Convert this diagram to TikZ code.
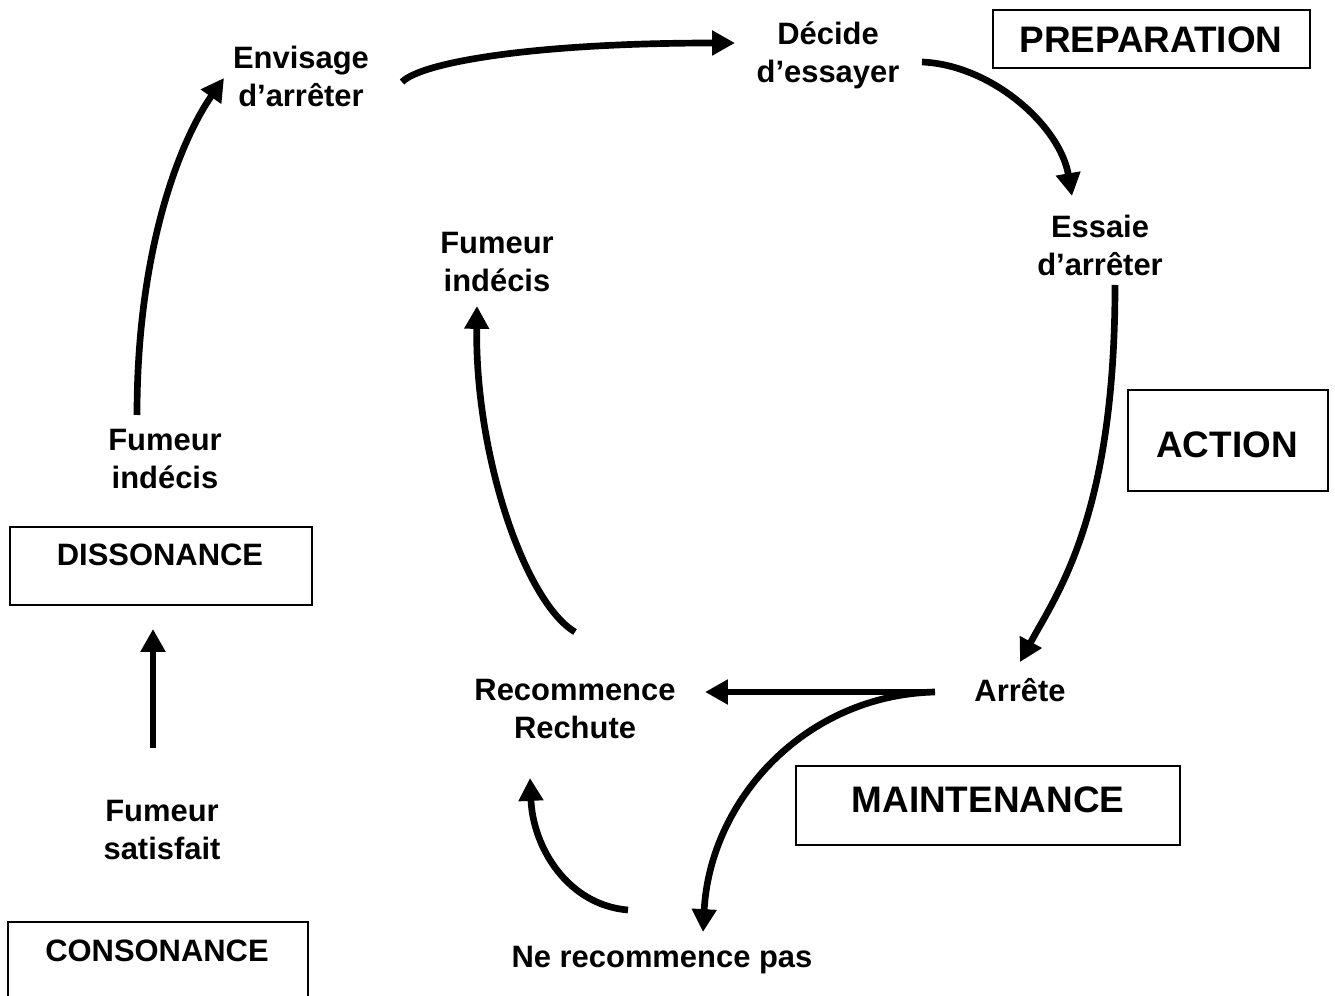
\documentclass[tikz,border=0pt]{standalone}
\usepackage{fontspec}
\setmainfont{Liberation Sans}
\usepackage{tikz}
\usetikzlibrary{arrows.meta, positioning}
\tikzset{
	stage/.style={align=center, inner sep=0pt, font=\fontsize{17.6}{21.6}\selectfont\bfseries},
	phase/.style={inner sep=0pt, font=\fontsize{21}{25}\selectfont\bfseries},
	phaseline/.style={line width=1.1pt},
	flow/.style={line width=3.8pt, -{Triangle[length=13pt, width=13.5pt]}}
}

\begin{document}
\begin{tikzpicture}[x=0.02cm, y=-0.02cm]
				\useasboundingbox (0,0) rectangle (1335,996);
				\node[stage] (envis) at (301,76) {Envisage\\d’arrêter};
				\node[stage] (decide) at (828,55) {Décide\\d’essayer};
				\node[stage] (essaie) at (1100,245) {Essaie\\d’arrêter};
				\node[stage] (indecisA) at (497,262) {Fumeur\\indécis};
				\node[stage] (indecisB) at (165,459) {Fumeur\\indécis};
				\node[stage] (satisf) at (162,830) {Fumeur\\satisfait};
				\node[stage] (rechute) at (575,709) {Recommence\\Rechute};
				\node[stage] (arrete) at (1020,690) {Arrête};
				\node[stage] (nepas) at (662,960) {Ne recommence pas};
				
				\draw[phaseline] (993,10) rectangle (1310,68);
				\node[phase] (prep) at (1151,40) {PREPARATION};
				\draw[phaseline] (1128,390) rectangle (1328,491);
				\node[phase] (action) at (1227,445) {ACTION};
				\draw[phaseline] (796,766) rectangle (1180,845);
				\node[phase] (maint) at (988,800) {MAINTENANCE};
				\draw[phaseline] (10,527) rectangle (312,605);
				\node[stage] (disso) at (160,555) {DISSONANCE};
				\draw[phaseline] (8,922) rectangle (308,1010);
				\node[stage] (conso) at (157,951) {CONSONANCE};
				
				\draw[flow] ([shift={(-28,-44)}]indecisB.center) .. controls +(0,-170) and +(-42,60) .. ([shift={(-77,2)}]envis.center);
				\draw[flow] ([shift={(101,6)}]envis.center) .. controls +(20,-20) and +(-200,0) .. ([shift={(-93,-12)}]decide.center);
				\draw[flow] ([shift={(94,7)}]decide.center) .. controls +(70,3) and +(-12,-70) .. ([shift={(-28,-49)}]essaie.center);
				\draw[flow] ([shift={(15,40)}]essaie.center) .. controls +(0,230) and +(38,-70) .. ([shift={(0,-28)}]arrete.center);
				\draw[flow] ([shift={(-85,2)}]arrete.center) -- ([shift={(130,-17)}]rechute.center);
				\draw[flow] ([shift={(-85,2)}]arrete.center) .. controls +(-130,3) and +(7,-132) .. ([shift={(41,-28)}]nepas.center);
				\draw[flow] ([shift={(-34,-50)}]nepas.center) .. controls +(-60,-5) and +(3,70) .. ([shift={(-45,69)}]rechute.center);
				\draw[flow] ([shift={(0,-77)}]rechute.center) .. controls +(-50,-30) and +(-2,150) .. ([shift={(-20,44)}]indecisA.center);
				\draw[flow] ([shift={(-9,-82)}]satisf.center) -- ([shift={(-7,74)}]disso.center);
\end{tikzpicture}
\end{document}
